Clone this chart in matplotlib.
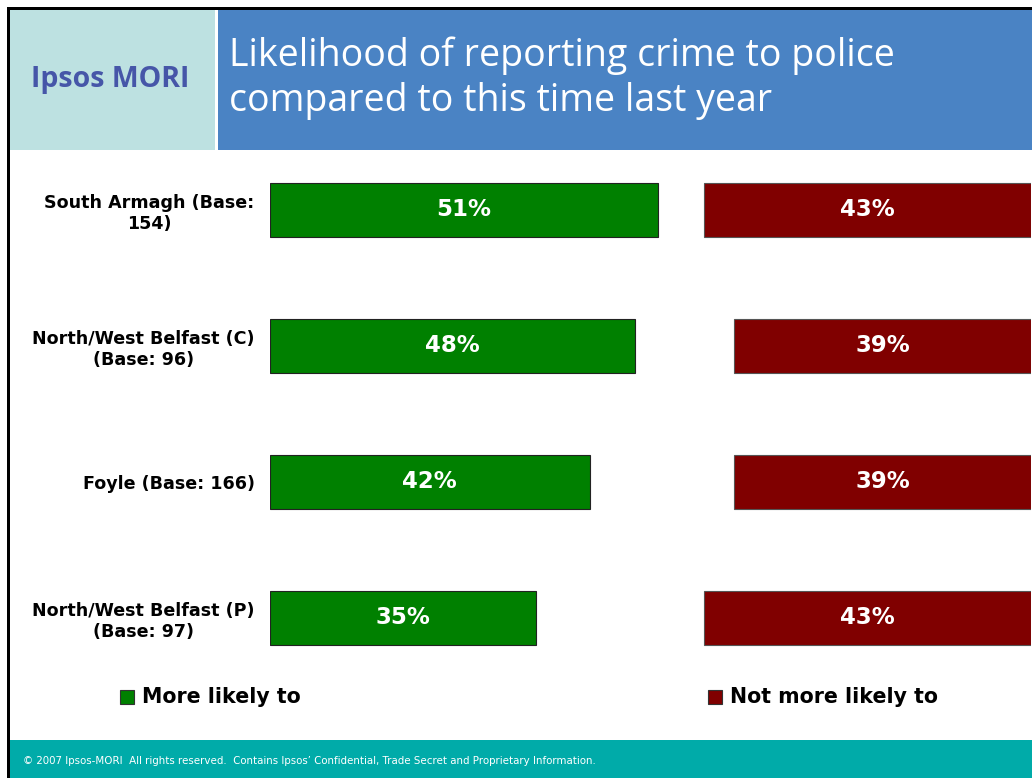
import matplotlib.pyplot as plt
from matplotlib.patches import Rectangle

# data
areas = ['South Armagh (Base:\n154)', 'North/West Belfast (C)\n(Base: 96)',
         'Foyle (Base: 166)', 'North/West Belfast (P)\n(Base: 97)']
more_likely = [51, 48, 42, 35]
not_more_likely = [43, 39, 39, 43]

GREEN = '#008000'
RED = '#800000'

W, H = 1032, 778
fig = plt.figure(figsize=(W/100, H/100), dpi=100)

def fx(px): return px / W
def fy(py): return 1 - py / H

# slide furniture
fig.patches.append(Rectangle((fx(10), fy(150)), fx(205), (140)/H, transform=fig.transFigure,
                             facecolor='#BDE1E1', edgecolor='none'))
fig.patches.append(Rectangle((fx(218), fy(150)), fx(W-218), (140)/H, transform=fig.transFigure,
                             facecolor='#4A83C4', edgecolor='none'))
fig.patches.append(Rectangle((fx(10), 0), fx(W-10), (H-740)/H, transform=fig.transFigure,
                             facecolor='#00ABA9', edgecolor='none'))
fig.patches.append(Rectangle((fx(7), fy(10)), fx(W-7), 3/H, transform=fig.transFigure,
                             facecolor='black', edgecolor='none'))
fig.patches.append(Rectangle((fx(7), 0), fx(3), (H-7)/H, transform=fig.transFigure,
                             facecolor='black', edgecolor='none'))

fig.text(fx(110), fy(79), 'Ipsos MORI', ha='center', va='center', fontsize=20.5,
         fontweight='bold', color='#4656A8', family='Open Sans')
fig.text(fx(229), fy(78), 'Likelihood of reporting crime to police\ncompared to this time last year',
         ha='left', va='center', fontsize=27, color='white', family='Open Sans', linespacing=1.25)
fig.text(fx(23), fy(761), '\u00a9 2007 Ipsos-MORI  All rights reserved.  Contains Ipsos\u2019 Confidential, '
         'Trade Secret and Proprietary Information.', ha='left', va='center', fontsize=7.4,
         color='white', family='DejaVu Sans')

# chart
ax = fig.add_axes([fx(270), 1 - 686/H, fx(761), 544/H])
y = list(range(len(areas)))
not_left = [100 - v for v in not_more_likely]
ax.barh(y, more_likely, height=0.4, color=GREEN, edgecolor='#222222', linewidth=0.8)
ax.barh(y, not_more_likely, left=not_left, height=0.4, color=RED, edgecolor='#555555', linewidth=0.8)

for i in y:
    ax.text(more_likely[i] / 2, i, f'{more_likely[i]}%', ha='center', va='center',
            color='white', fontsize=16.5, fontweight='bold')
    ax.text(not_left[i] + not_more_likely[i] / 2, i, f'{not_more_likely[i]}%', ha='center',
            va='center', color='white', fontsize=16.5, fontweight='bold')

ax.set_xlim(0, 100)
ax.set_ylim(len(areas) - 0.5, -0.5)
ax.set_yticks(y)
ax.set_yticklabels(areas, fontsize=12.6, fontweight='bold')
for lbl in ax.get_yticklabels():
    lbl.set_multialignment('center')
ax.tick_params(axis='y', length=0, pad=11)
ax.set_xticks([])
for s in ax.spines.values():
    s.set_visible(False)
ax.patch.set_alpha(0)

# legend
fig.patches.append(Rectangle((fx(120), fy(704)), fx(14), 14/H, transform=fig.transFigure,
                             facecolor=GREEN, edgecolor='#333333', linewidth=0.8))
fig.text(fx(142), fy(697), 'More likely to', ha='left', va='center', fontsize=14.8, fontweight='bold')
fig.patches.append(Rectangle((fx(708), fy(704)), fx(14), 14/H, transform=fig.transFigure,
                             facecolor=RED, edgecolor='#333333', linewidth=0.8))
fig.text(fx(730), fy(697), 'Not more likely to', ha='left', va='center', fontsize=14.8, fontweight='bold')

fig.savefig('out.png', dpi=100)
